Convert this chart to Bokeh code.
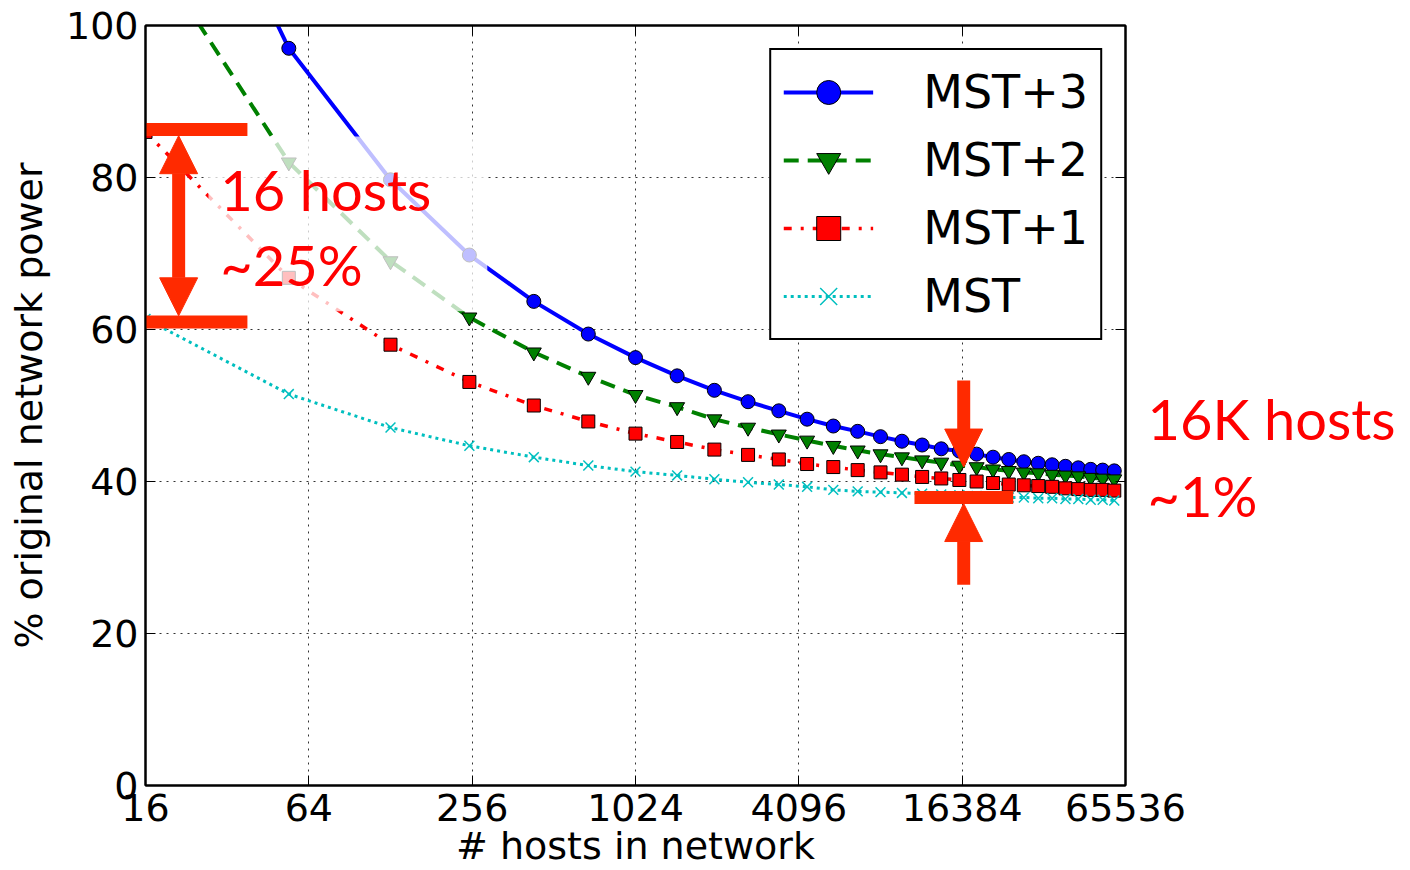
from bokeh.plotting import figure
from bokeh.models import (Range1d, FixedTicker, LogAxis, LinearAxis, Legend, LegendItem,
                          Arrow, NormalHead, Label, BoxAnnotation, BasicTickFormatter,
                          CustomJSTickFormatter)
from bokeh.embed import file_html
from bokeh.resources import INLINE

# ---------------- data ----------------
hosts = [16, 54, 128, 250, 432, 686, 1024, 1458, 2000, 2662, 3456, 4394, 5488, 6750, 8192,
         9826, 11664, 13718, 16000, 18522, 21296, 24334, 27648, 31250, 35152, 39366, 43904,
         48778, 54000, 59582]
mst3 = [136.0, 97.0, 79.7, 69.8, 63.7, 59.4, 56.3, 53.9, 52.0, 50.5, 49.3, 48.2, 47.3, 46.6, 45.9,
        45.3, 44.8, 44.3, 44.0, 43.6, 43.2, 42.9, 42.6, 42.4, 42.2, 42.0, 41.8, 41.6, 41.5, 41.4]
mst2 = [111.0, 82.0, 69.0, 61.6, 57.0, 53.8, 51.4, 49.8, 48.2, 47.1, 46.2, 45.4, 44.7, 44.1, 43.6,
        43.2, 42.8, 42.5, 42.1, 41.9, 41.6, 41.4, 41.2, 41.1, 40.9, 40.8, 40.7, 40.5, 40.4, 40.3]
mst1 = [86.0, 66.8, 58.0, 53.1, 50.0, 47.9, 46.3, 45.2, 44.2, 43.5, 42.9, 42.3, 41.9, 41.5, 41.2,
        40.9, 40.6, 40.4, 40.2, 40.0, 39.8, 39.6, 39.5, 39.4, 39.3, 39.1, 39.0, 38.9, 38.9, 38.8]
mst0 = [61.4, 51.5, 47.1, 44.7, 43.2, 42.1, 41.3, 40.8, 40.3, 39.9, 39.6, 39.3, 38.9, 38.7, 38.6,
        38.5, 38.4, 38.3, 38.2, 38.1, 38.0, 37.9, 37.9, 37.8, 37.8, 37.7, 37.7, 37.6, 37.6, 37.5]
series_names = ["MST+3", "MST+2", "MST+1", "MST"]

x_ticks = [16, 64, 256, 1024, 4096, 16384, 65536]
x_tick_labels = ["16", "64", "256", "1024", "4096", "16384", "65536"]
y_ticks = [0, 20, 40, 60, 80, 100]

x_label = "# hosts in network"
y_label = "% original network power"

note_left = ["16 hosts", "~25%"]
note_right = ["16K hosts", "~1%"]

# ---------------- figure ----------------
AX_FONT = "DejaVu Sans"
p = figure(width=1410, height=870, x_axis_type="log",
           x_range=Range1d(16, 65536), y_range=Range1d(0, 100),
           output_backend="svg", toolbar_location=None,
           min_border_left=145, min_border_right=285, min_border_top=25, min_border_bottom=85)
p.background_fill_color = "white"
p.border_fill_color = "white"
p.outline_line_color = "black"
p.outline_line_width = 2

p.xaxis.ticker = FixedTicker(ticks=x_ticks, minor_ticks=[])
p.xaxis.formatter = BasicTickFormatter(use_scientific=False)
p.xaxis.major_label_overrides = {t: l for t, l in zip(x_ticks, x_tick_labels)}
p.yaxis.ticker = FixedTicker(ticks=y_ticks, minor_ticks=[])
for ax in (p.xaxis[0], p.yaxis[0]):
    ax.major_label_text_font = AX_FONT
    ax.major_label_text_font_size = "38px"
    ax.major_label_text_color = "black"
    ax.major_tick_in = 10
    ax.major_tick_out = 0
    ax.major_tick_line_color = "black"
    ax.major_tick_line_width = 1
    ax.minor_tick_line_color = None
    ax.axis_line_color = "black"
    ax.axis_line_width = 2
    ax.axis_label_text_font = AX_FONT
    ax.axis_label_text_font_size = "38px"
    ax.axis_label_text_font_style = "normal"
    ax.axis_label_text_color = "black"
p.xaxis.major_label_standoff = 8
p.yaxis.major_label_standoff = 7
p.xaxis.axis_label = x_label
p.xaxis.axis_label_standoff = 0
p.yaxis.axis_label = y_label
p.yaxis.axis_label_standoff = 12

blank = CustomJSTickFormatter(code="return ''")
top_axis = LogAxis(ticker=FixedTicker(ticks=x_ticks, minor_ticks=[]), formatter=blank,
                   major_tick_in=10, major_tick_out=0, minor_tick_line_color=None,
                   axis_line_color="black", axis_line_width=2, major_label_standoff=0)
p.add_layout(top_axis, "above")
right_axis = LinearAxis(ticker=FixedTicker(ticks=y_ticks, minor_ticks=[]), formatter=blank,
                        major_tick_in=10, major_tick_out=0, minor_tick_line_color=None,
                        axis_line_color="black", axis_line_width=2, major_label_standoff=0)
p.add_layout(right_axis, "right")

p.xgrid.ticker = FixedTicker(ticks=x_ticks, minor_ticks=[])
p.ygrid.ticker = FixedTicker(ticks=y_ticks, minor_ticks=[])
p.grid.grid_line_color = "#333333"
p.grid.grid_line_width = 1
p.grid.grid_line_dash = "2 5"

# ---------------- series ----------------
l3 = p.line(hosts, mst3, line_color="#0000FF", line_width=4)
s3 = p.scatter(hosts, mst3, marker="circle", size=14, fill_color="#0000FF", line_color="black", line_width=1)
l2 = p.line(hosts, mst2, line_color="#008000", line_width=4, line_dash="15 9")
s2 = p.scatter(hosts, mst2, marker="inverted_triangle", size=15, fill_color="#008000", line_color="black", line_width=1)
l1 = p.line(hosts, mst1, line_color="#FF0000", line_width=3.5, line_dash="8 9 3 9")
s1 = p.scatter(hosts, mst1, marker="square", size=13, fill_color="#FF0000", line_color="black", line_width=1)
l0 = p.line(hosts, mst0, line_color="#00BFBF", line_width=3, line_dash="3 4")
s0 = p.scatter(hosts, mst0, marker="x", size=14, line_color="#00BFBF", line_width=1.5)

legend = Legend(items=[LegendItem(label=series_names[0], renderers=[l3, s3]),
                       LegendItem(label=series_names[1], renderers=[l2, s2]),
                       LegendItem(label=series_names[2], renderers=[l1, s1]),
                       LegendItem(label=series_names[3], renderers=[l0, s0])],
                location="top_right", margin=23, padding=12, spacing=8,
                label_height=60, glyph_height=60, glyph_width=90, label_standoff=50,
                label_text_font=AX_FONT, label_text_font_size="46px", label_text_color="black",
                border_line_color="black", border_line_width=2, border_line_alpha=1.0,
                background_fill_color="white", background_fill_alpha=1.0)
p.add_layout(legend)

# ---------------- annotations ----------------
ANN = "#FF2A00"
p.add_layout(BoxAnnotation(left=27.3, right=291, bottom=62.4, top=85.4,
                           fill_color="white", fill_alpha=0.75, line_color=None))
p.segment(x0=[16, 16, 10930], y0=[86.3, 61.0, 37.9], x1=[38, 38, 25270], y1=[86.3, 61.0, 37.9],
          line_color=ANN, line_width=13, line_cap="butt")
p.add_layout(Arrow(x_start=21.2, y_start=85.5, x_end=21.2, y_end=61.8,
                   start=NormalHead(size=38, fill_color=ANN, line_color=ANN, line_width=1),
                   end=NormalHead(size=38, fill_color=ANN, line_color=ANN, line_width=1),
                   line_color=ANN, line_width=13))
p.add_layout(Arrow(x_start=16600, y_start=53.3, x_end=16600, y_end=41.9, start=None,
                   end=NormalHead(size=38, fill_color=ANN, line_color=ANN, line_width=1),
                   line_color=ANN, line_width=13))
p.add_layout(Arrow(x_start=16600, y_start=26.4, x_end=16600, y_end=37.1, start=None,
                   end=NormalHead(size=38, fill_color=ANN, line_color=ANN, line_width=1),
                   line_color=ANN, line_width=13))

TXT = dict(text_font="Lato", text_font_size="56px", text_color="#FF0000",
           text_baseline="alphabetic", text_align="left")
p.add_layout(Label(x=30.2, y=78.4, text=note_left[0], **TXT))
p.add_layout(Label(x=30.2, y=68.5, text=note_left[1], **TXT))

# right-hand note, drawn as labels of an extra right axis (outside the frame)
note_pos = [48.25, 38.2]
note_axis = LinearAxis(ticker=FixedTicker(ticks=note_pos, minor_ticks=[]),
                       formatter=CustomJSTickFormatter(args=dict(pos=note_pos, txt=note_right),
                                                       code="const i = pos.indexOf(tick); return i >= 0 ? txt[i] : ''"),
                       major_tick_line_color=None, minor_tick_line_color=None, axis_line_color=None,
                       major_tick_in=0, major_tick_out=0, major_label_standoff=22,
                       major_label_text_font="Lato", major_label_text_font_size="56px",
                       major_label_text_color="#FF0000")
p.add_layout(note_axis, "right")

open("out.html", "w").write(file_html(p, INLINE))
